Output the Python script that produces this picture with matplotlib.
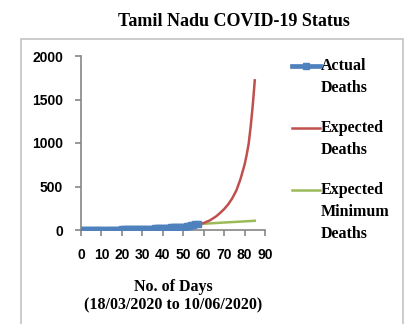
import matplotlib
matplotlib.use("Agg")
import matplotlib.pyplot as plt
from matplotlib.patches import Rectangle

# Actual deaths, days 0..57 since 18/03/2020
actual_days = list(range(58))
actual_deaths = [0, 0, 0, 0, 0, 0, 0,
                 1, 1, 1, 1, 1, 1, 1,
                 2, 2, 3, 3, 5, 5, 6,
                 8, 8, 11, 11, 11, 12, 14,
                 15, 15, 15, 15, 15, 16, 17,
                 17, 18, 20, 22, 23, 24, 25,
                 27, 28, 29, 30, 31, 32, 33,
                 35, 37, 40, 44, 47, 53, 56, 64,
                 71]

# Projected deaths
expected_days = [0, 10, 20, 30, 40, 50, 55, 58, 60, 63, 66, 68, 70, 72,
                 74, 76, 78, 80, 81, 82, 83, 84, 85]
expected_deaths = [0, 3, 8, 15, 25, 40, 52, 65, 80, 110, 155, 195, 240, 295,
                   365, 455, 585, 750, 860, 990, 1190, 1430, 1720]

# Projected minimum deaths
minimum_days = [0, 10, 20, 30, 40, 50, 60, 70, 80, 85]
minimum_deaths = [0, 8, 18, 28, 40, 55, 72, 86, 99, 106]

x_ticks = [0, 10, 20, 30, 40, 50, 60, 70, 80, 90]
y_ticks = [0, 500, 1000, 1500, 2000]

BLUE = "#4F81BD"
RED = "#C0504D"
GREEN = "#9BBB59"
GRAY = "#868686"
SERIF = "Liberation Serif"
SANS = "Liberation Sans"

W, H = 404, 324
fig = plt.figure(figsize=(W / 100, H / 100), dpi=100)

# outer chart frame
fig.patches.append(Rectangle((21 / W, -0.05), (403 - 21) / W, 1 - 39 / H + 0.05,
                             transform=fig.transFigure, fill=False,
                             edgecolor="#c4c4c4", linewidth=1.2))

fig.text(234 / W, 1 - 22 / H, "Tamil Nadu COVID-19 Status", ha="center", va="center",
         family=SERIF, fontweight="bold", fontsize=13)

ax = fig.add_axes([81 / W, 1 - 230 / H, (265 - 81) / W, (230 - 56) / H])
ax.set_facecolor("none")

ax.plot(minimum_days, minimum_deaths, color=GREEN, linewidth=1.8,
        label="Expected\nMinimum\nDeaths", zorder=2)
ax.plot(expected_days, expected_deaths, color=RED, linewidth=1.8,
        label="Expected\nDeaths", zorder=2)
ax.plot(actual_days, actual_deaths, color=BLUE, linewidth=3.4, marker="s",
        markersize=4, label="Actual\nDeaths", zorder=3)

ax.set_xlim(0, 90)
ax.set_ylim(0, 2000)
ax.set_xticks(x_ticks)
ax.set_yticks(y_ticks)
for s in ("top", "right"):
    ax.spines[s].set_visible(False)
for s in ("left", "bottom"):
    ax.spines[s].set_color(GRAY)
    ax.spines[s].set_linewidth(1.2)
ax.tick_params(axis="both", direction="out", color=GRAY, width=1.2, length=4)
ax.tick_params(axis="x", pad=9)
ax.tick_params(axis="y", pad=9)
for lab in ax.get_xticklabels() + ax.get_yticklabels():
    lab.set_fontfamily(SANS)
    lab.set_fontweight("bold")
    lab.set_fontsize(10)

ax.set_xlabel("No. of Days\n(18/03/2020 to 10/06/2020)", family=SERIF,
              fontweight="bold", fontsize=11.5, labelpad=12, linespacing=1.2)

handles, labels = ax.get_legend_handles_labels()
order = [2, 1, 0]
leg = fig.legend([handles[i] for i in order], [labels[i] for i in order],
                 loc="upper left", bbox_to_anchor=(292 / W, 1 - 58 / H),
                 frameon=False, borderpad=0, borderaxespad=0,
                 handlelength=1.75, handletextpad=0.05, labelspacing=1.5,
                 prop={"family": SERIF, "weight": "bold", "size": 11.5})
for t in leg.get_texts():
    t.set_linespacing(1.5)

# lift each legend key up to the first line of its label
fig.canvas.draw()
r = fig.canvas.get_renderer()
t0 = leg.get_texts()[0]
one = fig.text(0, 0, "Actual", fontproperties=t0.get_fontproperties(), linespacing=1.5)
two = fig.text(0, 0, "Actual\nDeaths", fontproperties=t0.get_fontproperties(), linespacing=1.5)
gap_px = two.get_window_extent(r).height - one.get_window_extent(r).height
one.remove()
two.remove()
gap_pt = gap_px * 72 / fig.dpi
for h, t in zip(leg.legend_handles, leg.get_texts()):
    n = t.get_text().count("\n") + 1
    h.set_ydata([y + gap_pt * (n - 1) / 2 for y in h.get_ydata()])

fig.savefig("out.png", dpi=100)
